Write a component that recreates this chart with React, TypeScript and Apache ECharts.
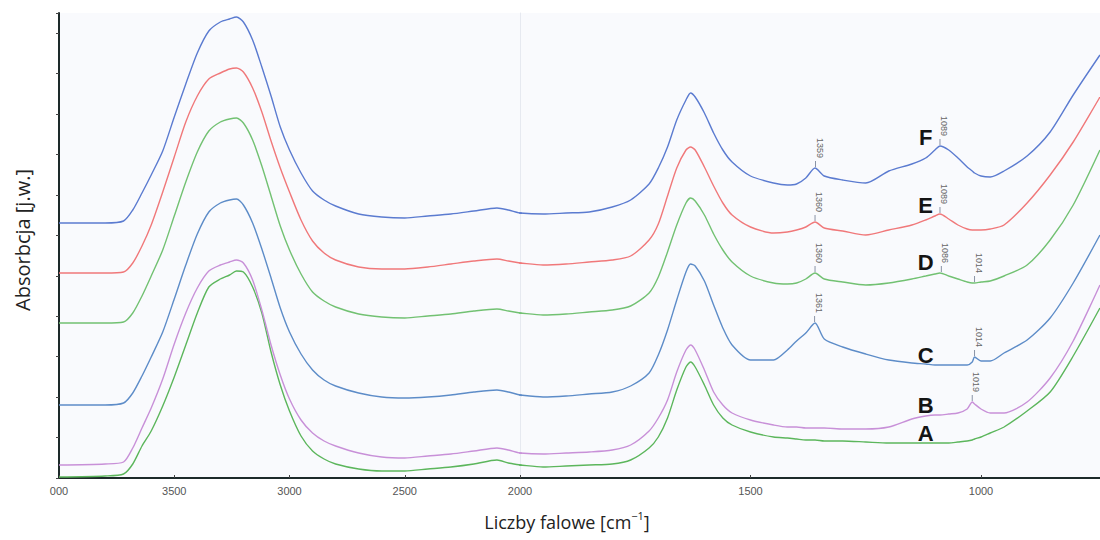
import React, { useEffect, useRef } from "react";
import * as echarts from "echarts";

// Wavenumbers (cm-1), descending
const wavenumbers = [
  4000, 3800, 3720, 3680, 3640, 3600, 3550, 3500, 3450, 3400, 3350, 3300, 3260, 3230, 3200, 3160, 3120, 3080, 3040, 3000,
  2950, 2900, 2850, 2800, 2700, 2600, 2500, 2400, 2300, 2200, 2100, 2050, 2000,
  1950, 1900, 1850, 1800, 1760, 1720, 1700, 1680, 1660, 1640, 1630, 1620, 1600, 1580, 1560, 1540,
  1500, 1450, 1420, 1400, 1380, 1360, 1340, 1300, 1250, 1200, 1150, 1120, 1100, 1089, 1070, 1050, 1030, 1019, 1014,
  1000, 980, 950, 900, 850, 800, 742,
];

// Absorbance (arbitrary units, stacked with offsets)
const seriesA = [
  1, 2, 4, 14, 32, 47, 72, 101, 133, 165, 191, 199, 203, 207, 206, 191, 165, 126, 93, 67,
  42, 27, 19, 14, 9, 7, 7, 9, 11, 14, 18, 15, 13,
  11, 12, 13, 14, 18, 30, 41, 60, 88, 111, 116, 111, 93, 73, 60, 53,
  46, 41, 40, 39, 38, 38, 37, 37, 36, 35, 35, 35, 35, 35, 35, 36, 37, 38, 39,
  41, 45, 51, 67, 86, 122, 170,
];
const seriesB = [
  13, 14, 16, 30, 50, 70, 99, 134, 165, 190, 207, 213, 216, 218, 215, 198, 168, 133, 103, 79,
  58, 45, 37, 32, 25, 21, 20, 22, 24, 27, 30, 28, 25,
  24, 25, 26, 28, 33, 47, 60, 78, 106, 128, 133, 128, 108, 86, 73, 65,
  58, 53, 51, 51, 50, 50, 50, 49, 49, 51, 59, 62, 63, 63, 64, 65, 69, 76, 74,
  69, 65, 65, 76, 100, 137, 193,
];
const seriesC = [
  73, 73, 75, 85, 102, 121, 146, 179, 213, 244, 266, 275, 278, 279, 273, 255, 229, 200, 170, 146,
  124, 108, 98, 92, 85, 81, 80, 81, 83, 86, 88, 86, 83,
  81, 82, 84, 86, 92, 105, 123, 148, 178, 206, 214, 212, 197, 173, 150, 133,
  118, 118, 128, 137, 145, 155, 139, 131, 124, 118, 115, 114, 113, 113, 113, 113, 113, 116, 121,
  117, 117, 125, 138, 160, 195, 243,
];
const seriesD = [
  155, 155, 156, 165, 182, 202, 228, 262, 296, 326, 347, 356, 359, 360, 355, 338, 312, 282, 252, 228,
  204, 186, 177, 171, 164, 161, 160, 162, 164, 167, 169, 167, 165,
  163, 164, 166, 168, 172, 185, 201, 226, 253, 275, 280, 277, 263, 244, 228, 216,
  202, 195, 194, 195, 199, 205, 199, 196, 193, 195, 199, 202, 204, 205, 202, 199, 196, 195, 195,
  196, 197, 202, 213, 238, 273, 328,
];
const seriesE = [
  205, 205, 206, 215, 232, 253, 286, 321, 356, 382, 399, 405, 409, 410, 406, 390, 366, 337, 310, 286,
  258, 237, 225, 218, 211, 209, 209, 211, 214, 217, 219, 217, 215,
  213, 214, 216, 218, 222, 238, 254, 282, 310, 328, 331, 328, 311, 292, 275, 263,
  251, 245, 246, 248, 251, 256, 250, 247, 243, 248, 253, 258, 262, 264, 259, 253, 249, 248, 248,
  248, 249, 253, 275, 303, 336, 381,
];
const seriesF = [
  255, 255, 257, 268, 285, 303, 327, 361, 394, 425, 447, 456, 459, 461, 456, 438, 411, 382, 351, 328,
  305, 287, 278, 272, 264, 261, 260, 262, 264, 267, 270, 268, 265,
  264, 265, 266, 271, 278, 294, 310, 331, 358, 378, 385, 381, 365, 345, 328, 316,
  302, 295, 293, 294, 300, 310, 302, 298, 295, 307, 314, 320, 328, 332, 328, 320, 311, 307, 305,
  302, 301, 307, 322, 346, 383, 423,
];

// Labelled peaks (cm-1)
const peaksA: number[] = [];
const peaksB = [1019];
const peaksC = [1361, 1014];
const peaksD = [1360, 1086, 1014];
const peaksE = [1360, 1089];
const peaksF = [1359, 1089];

// Curve letter anchors in data units [wavenumber, absorbance]
const letterA = [1120, 45];
const letterB = [1120, 73];
const letterC = [1120, 123];
const letterD = [1120, 216];
const letterE = [1120, 273];
const letterF = [1120, 341];

const curves = [
  { name: "A", values: seriesA, color: "#5cb65c", peaks: peaksA, letter: letterA },
  { name: "B", values: seriesB, color: "#c890d8", peaks: peaksB, letter: letterB },
  { name: "C", values: seriesC, color: "#5d8cc8", peaks: peaksC, letter: letterC },
  { name: "D", values: seriesD, color: "#72c172", peaks: peaksD, letter: letterD },
  { name: "E", values: seriesE, color: "#f0787a", peaks: peaksE, letter: letterE },
  { name: "F", values: seriesF, color: "#5b7bd0", peaks: peaksF, letter: letterF },
];

function nearestIndex(w: number) {
  let best = 0;
  for (let i = 1; i < wavenumbers.length; i++) {
    if (Math.abs(wavenumbers[i] - w) < Math.abs(wavenumbers[best] - w)) best = i;
  }
  return best;
}

export default function App() {
  const ref = useRef<HTMLDivElement>(null);

  useEffect(() => {
    document.body.style.margin = "0";
    if (!ref.current) return;
    const chart = echarts.init(ref.current, undefined, { renderer: "svg" });

    const series: any[] = [];
    curves.forEach((c) => {
      const data = wavenumbers.map((w, i) => [w, c.values[i]]);
      [0, 1].forEach((g) =>
        series.push({
          type: "line",
          name: c.name,
          xAxisIndex: g,
          yAxisIndex: g,
          data,
          showSymbol: false,
          smooth: 0.25,
          clip: true,
          silent: true,
          lineStyle: { color: c.color, width: 1.4 },
          itemStyle: { color: c.color },
        })
      );
    });

    const peakData: any[] = [];
    curves.forEach((c) =>
      c.peaks.forEach((p) => {
        peakData.push([p, c.values[nearestIndex(p)], String(p)]);
      })
    );
    series.push({
      type: "custom",
      xAxisIndex: 1,
      yAxisIndex: 1,
      silent: true,
      z: 5,
      data: peakData.map((d) => [d[0], d[1]]),
      renderItem: (params: any, api: any) => {
        const item = peakData[params.dataIndex];
        const pt = api.coord([item[0], item[1]]);
        return {
          type: "group",
          children: [
            {
              type: "line",
              shape: { x1: pt[0], y1: pt[1] - 1, x2: pt[0], y2: pt[1] - 7 },
              style: { stroke: "#8a93a6", lineWidth: 1 },
            },
            {
              type: "text",
              x: pt[0] + 4,
              y: pt[1] - 10,
              rotation: -Math.PI / 2,
              style: {
                text: item[2],
                font: '9px "Liberation Sans", Arial, sans-serif',
                fill: "#666",
                align: "right",
                verticalAlign: "middle",
              },
            },
          ],
        };
      },
    });

    const letterData = curves.map((c) => [c.letter[0], c.letter[1], c.name]);
    series.push({
      type: "custom",
      xAxisIndex: 1,
      yAxisIndex: 1,
      silent: true,
      z: 6,
      data: letterData.map((d) => [d[0], d[1]]),
      renderItem: (params: any, api: any) => {
        const item = letterData[params.dataIndex];
        const pt = api.coord([item[0], item[1]]);
        return {
          type: "text",
          x: pt[0],
          y: pt[1],
          style: {
            text: item[2],
            font: 'bold 22px "Liberation Sans", Arial, sans-serif',
            fill: "#141414",
            align: "center",
            verticalAlign: "middle",
          },
        };
      },
    });

    const axisLineStyle = { color: "#1d2a2a", width: 2 };
    const labelStyle = {
      color: "#555",
      fontSize: 11,
      fontFamily: '"Liberation Sans", Arial, sans-serif',
      margin: 7,
    };

    chart.setOption({
      animation: false,
      textStyle: { fontFamily: '"Liberation Sans", Arial, sans-serif' },
      grid: [
        {
          left: 59, top: 13, width: 461, height: 465, show: true,
          backgroundColor: "#f9fafd", borderWidth: 0, outerBoundsMode: "none", containLabel: false,
        },
        {
          left: 520, top: 13, width: 691.5, height: 465, show: true,
          backgroundColor: "#f9fafd", borderWidth: 0, outerBoundsMode: "none", containLabel: false,
        },
      ],
      xAxis: [
        {
          gridIndex: 0,
          type: "value",
          min: 2000,
          max: 4000,
          interval: 500,
          inverse: true,
          axisLine: { lineStyle: axisLineStyle },
          axisTick: { show: true, inside: true, length: 3, lineStyle: { color: "#444" } },
          axisLabel: { ...labelStyle, formatter: (v: number) => (v === 4000 ? "000" : String(v)) },
          splitLine: { show: false },
        },
        {
          gridIndex: 1,
          type: "value",
          min: 500,
          max: 2000,
          interval: 500,
          inverse: true,
          axisLine: { lineStyle: axisLineStyle },
          axisTick: { show: true, inside: true, length: 3, lineStyle: { color: "#444" } },
          axisLabel: {
            ...labelStyle,
            formatter: (v: number) => (v === 2000 || v === 500 ? "" : String(v)),
          },
          splitLine: { show: false },
        },
      ],
      yAxis: [
        {
          gridIndex: 0,
          type: "value",
          min: 0,
          max: 465,
          interval: 40.43,
          axisLine: { show: true, lineStyle: axisLineStyle },
          axisTick: { show: true, length: 3, lineStyle: { color: "#444" } },
          axisLabel: { show: false },
          splitLine: { show: false },
        },
        {
          gridIndex: 1,
          type: "value",
          min: 0,
          max: 465,
          interval: 40.43,
          axisLine: { show: true, lineStyle: { color: "#e6e9f0", width: 1 } },
          axisTick: { show: false },
          axisLabel: { show: false },
          splitLine: { show: false },
        },
      ],
      graphic: [
        {
          type: "text",
          x: 22,
          y: 240,
          rotation: Math.PI / 2,
          style: {
            text: "Absorbcja [j.w.]",
            font: '20px "Open Sans", sans-serif',
            fill: "#222",
            align: "center",
            verticalAlign: "middle",
          },
        },
        {
          type: "text",
          x: 567,
          y: 522,
          style: {
            text: "Liczby falowe [cm{s|−1}]",
            font: '18px "Open Sans", sans-serif',
            fill: "#222",
            align: "center",
            verticalAlign: "middle",
            rich: {
              s: { fontSize: 11, fontFamily: '"Open Sans", sans-serif', fill: "#222", verticalAlign: "top", lineHeight: 24 },
            },
          },
        },
      ],
      series,
    });

    return () => chart.dispose();
  }, []);

  return <div ref={ref} style={{ width: 1100, height: 540 }} />;
}
